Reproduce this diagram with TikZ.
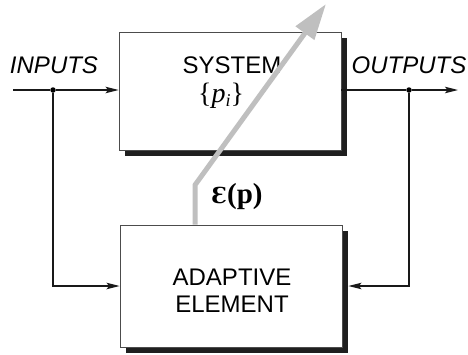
\documentclass[tikz,border=0pt]{standalone}
\usepackage{fontspec}
\setmainfont{Liberation Sans}
\newfontfamily\epsfont{DejaVu Serif}
\newfontfamily\serifb{Liberation Serif}
\usetikzlibrary{arrows.meta,shadows,calc}
\begin{document}
\begin{tikzpicture}[x=1pt,y=-1pt,
  blk/.style={draw=black!70, line width=0.9pt, fill=white, minimum width=222pt,
    minimum height=118pt, inner sep=0pt,
    drop shadow={shadow xshift=6pt, shadow yshift=-6pt, fill=black!88, opacity=1}},
  txt/.style={font=\fontsize{24}{27}\selectfont, inner sep=0pt, anchor=base},
  wire/.style={line width=1.3pt, black!90},
  sig/.style={wire, -{Stealth[length=13pt,width=6.5pt,inset=2.5pt]}},
  dot/.style={circle, fill=black, inner sep=0pt, minimum size=5.5pt},
  lab/.style={txt, font=\fontsize{24}{27}\selectfont\itshape},
  grayarrow/.style={line width=5pt, black!25, -{Triangle[length=36pt,width=22pt]}}
]
\useasboundingbox (0,0) rectangle (468,354);

\node[blk] (sys) at (230,91) {};
\node[blk, minimum height=122pt] (ada) at (231,286) {};

\node[txt] (systxt) at (232,73) {SYSTEM};
\node[txt] (ptxt) at (221,102) {\serifb\fontsize{28}{28}\selectfont\{\textit{p}\raisebox{-4pt}{\fontsize{18}{18}\selectfont\itshape i}\}};
\node[txt] (adatxt) at (232,285) {ADAPTIVE};
\node[txt] (eletxt) at (232,312) {ELEMENT};

\node[lab] (inlab) at (54,73) {INPUTS};
\node[lab] (outlab) at (409,73) {OUTPUTS};
\node[txt] (eps) at (237,203)
  {{\epsfont\bfseries\fontsize{22}{27}\selectfont Ɛ}{\serifb\bfseries\fontsize{29}{27}\selectfont (p)}};

\coordinate (inL) at (13,90);
\node[dot] (din) at (53,90) {};
\coordinate (outR) at (458,90);
\node[dot] (dout) at (409,90) {};

\draw[wire] (inL) -- (din);
\draw[sig] (din) -- (sys.west |- din);
\draw[sig] (din) |- (ada.west);
\draw[wire] (sys.east |- dout) -- (dout);
\draw[sig] (dout) -- (outR);
\draw[sig] (dout) |- ([xshift=6pt]ada.east);

\coordinate (g1) at ([xshift=-36pt]ada.north);
\coordinate (g2) at (195,185);
\coordinate (g3) at (326,4);
\draw[grayarrow] (g1) -- (g2) -- (g3);
\end{tikzpicture}
\end{document}
